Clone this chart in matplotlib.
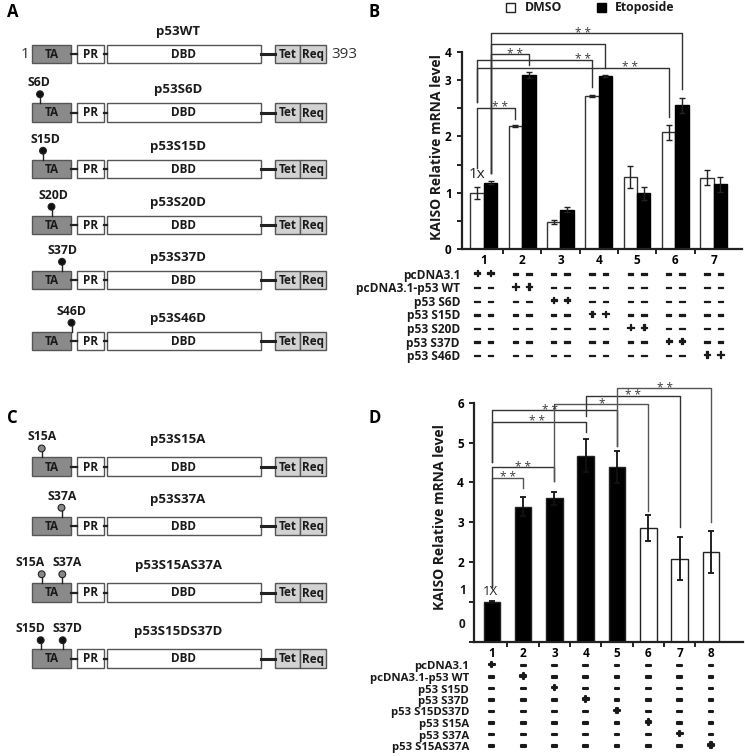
import matplotlib.pyplot as plt
import matplotlib.patheffects as pe
import numpy as np
from matplotlib.patches import Rectangle, Circle
from matplotlib.transforms import blended_transform_factory

plt.rcParams['font.family'] = ['Open Sans', 'DejaVu Sans']

# ---------------- data ----------------
# panel A / C constructs
a_names = ['p53WT', 'p53S6D', 'p53S15D', 'p53S20D', 'p53S37D', 'p53S46D']
a_sites = [[], ['S6D'], ['S15D'], ['S20D'], ['S37D'], ['S46D']]
c_names = ['p53S15A', 'p53S37A', 'p53S15AS37A', 'p53S15DS37D']
c_sites = [['S15A'], ['S37A'], ['S15A', 'S37A'], ['S15D', 'S37D']]

# panel B
b_groups = ['1', '2', '3', '4', '5', '6', '7']
b_dmso = [1.00, 2.18, 0.48, 2.72, 1.28, 2.07, 1.27]
b_dmso_err = [0.11, 0.02, 0.04, 0.02, 0.20, 0.13, 0.13]
b_etop = [1.18, 3.09, 0.70, 3.08, 0.99, 2.55, 1.15]
b_etop_err = [0.02, 0.06, 0.04, 0.02, 0.12, 0.13, 0.13]
b_rows = ['pcDNA3.1', 'pcDNA3.1-p53 WT', 'p53 S6D', 'p53 S15D',
          'p53 S20D', 'p53 S37D', 'p53 S46D']

# panel D
d_groups = ['1', '2', '3', '4', '5', '6', '7', '8']
d_vals = [1.00, 3.39, 3.60, 4.67, 4.38, 2.86, 2.08, 2.25]
d_err = [0.02, 0.24, 0.16, 0.41, 0.40, 0.33, 0.54, 0.52]
d_rows = ['pcDNA3.1', 'pcDNA3.1-p53 WT', 'p53 S15D', 'p53 S37D',
          'p53 S15DS37D', 'p53 S15A', 'p53 S37A', 'p53 S15AS37A']

# ---------------- figure ----------------
fig = plt.figure(figsize=(7.45, 7.56), dpi=100)
ov = fig.add_axes([0, 0, 1, 1])   # pixel overlay for diagrams / text
ov.set_xlim(0, 745)
ov.set_ylim(756, 0)
ov.axis('off')

BOLD = dict(fontweight='bold', color='#1a1a1a')

# x pixel position of each phospho site on the TA box, and of its label
site_x = {'S6D': (40, 38.5), 'S15D': (43, 45.5), 'S20D': (51.5, 53),
          'S37D': (62, 63), 'S46D': (71.5, 71.5),
          'S15A': (41.7, 41.7), 'S37A': (61.5, 62)}
pair_x = {'S15A': (41.7, 30.5), 'S37A': (62.3, 66.7),
          'S15D': (40.7, 30), 'S37D': (62.7, 67.3)}


def protein(y, title, sites, title_dy):
    h = 18.5
    ov.plot([71, 77], [y, y], color='#222', lw=1.6)
    ov.plot([104, 107], [y, y], color='#222', lw=1.6)
    ov.plot([261, 275], [y, y], color='#222', lw=2.2)
    boxes = [(32, 71, 'TA', '#8a8a8a'), (77, 104, 'PR', 'white'),
             (107, 261, 'DBD', 'white'), (275, 300, 'Tet', '#d2d2d2'),
             (300, 326, 'Req', '#d2d2d2')]
    for x0, x1, lab, fc in boxes:
        ov.add_patch(Rectangle((x0, y - h / 2), x1 - x0, h, fc=fc,
                               ec='#555555', lw=1))
        ov.text((x0 + x1) / 2, y + 0.5, lab, ha='center', va='center',
                fontsize=8.5, **BOLD)
    ov.text(178, y - title_dy, title, ha='center', va='center',
            fontsize=9.5, **BOLD)
    top = y - h / 2
    for s in sites:
        cx, lx = (pair_x[s] if len(sites) > 1 else site_x[s])
        fc = '#888888' if s.endswith('A') else '#111111'
        ov.plot([cx, cx], [top, top - 9], color='#222', lw=1)
        ov.add_patch(Circle((cx, top - 9), 3.4, fc=fc, ec='#222', lw=0.8,
                            zorder=3))
        ov.text(lx, top - 20.5, s, ha='center', va='center',
                fontsize=8.8, **BOLD)


a_y = [54, 112.5, 169, 225, 280, 341]
for y, name, s in zip(a_y, a_names, a_sites):
    protein(y, name, s, 22.5)
ov.text(25, 54, '1', ha='center', va='center', fontsize=11, color='#333')
ov.text(331, 54, '393', ha='left', va='center', fontsize=11, color='#333')

c_y = [466.7, 526, 592.5, 658.5]
for y, name, s in zip(c_y, c_names, c_sites):
    protein(y, name, s, 27)

for lab, x, y in [('A', 7, 12), ('B', 368, 12), ('C', 7, 418), ('D', 368, 418)]:
    ov.text(x, y, lab, ha='left', va='center', fontsize=12,
            fontweight='bold', color='black')


def style_axes(ax):
    for sp in ['top', 'right']:
        ax.spines[sp].set_visible(False)
    for sp in ['left', 'bottom']:
        ax.spines[sp].set_linewidth(1.6)
        ax.spines[sp].set_color('#222')
    ax.tick_params(axis='both', which='major', direction='out', length=3.5,
                   width=1.4, color='#222', labelsize=8.5, pad=4)
    for t in ax.get_yticklabels():
        t.set_fontweight('bold')


def bracket(ax, x1, x2, h, lb, rb, label, lx, color='#333'):
    ax.plot([x1, x1, x2, x2], [lb, h, h, rb], color=color, lw=1,
            clip_on=False)
    if label:
        ax.text(lx, h, label, ha='center', va='center', fontsize=8.5,
                color='#3a3a3a', clip_on=False)


def sign_table(ax, xs, owners, rows, y0, dy, xlab, fs, sfs, stroke):
    tr = blended_transform_factory(ax.transData, ov.transData)
    thick = [pe.withStroke(linewidth=stroke, foreground='#1a1a1a')]
    for r, row in enumerate(rows):
        y = y0 + r * dy
        ov.text(xlab, y + 1, row, ha='right', va='center', fontsize=fs, **BOLD)
        for x, g in zip(xs, owners):
            ov.text(x, y, '+' if g == r else '\u2013', transform=tr,
                    ha='center', va='center', fontsize=sfs,
                    path_effects=thick, **BOLD)


# ---------------- panel B ----------------
axB = fig.add_axes([462 / 745, 1 - 249 / 756, 280 / 745, 197 / 756])
xb = np.arange(len(b_groups))
w = 0.35
ekw = dict(elinewidth=1, ecolor='#222', capthick=1)
axB.bar(xb - w / 2, b_dmso, w, yerr=b_dmso_err, color='white',
        edgecolor='#333', lw=1, capsize=2.5, error_kw=ekw)
axB.bar(xb + w / 2, b_etop, w, yerr=b_etop_err, color='black',
        edgecolor='black', lw=1, capsize=2.5, error_kw=ekw)
axB.set_xlim(-0.57, 6.74)
axB.set_ylim(0, 3.5)
axB.set_yticks(np.arange(0, 3.6, 0.5))
axB.set_yticklabels(['0', '', '1', '', '2', '', '3', '4'])
axB.set_xticks(xb[:-1] + 0.5)
axB.set_xticklabels([])
axB.set_xticks(xb, minor=True)
axB.set_xticklabels(b_groups, minor=True, fontsize=8.5, fontweight='bold')
axB.tick_params(axis='x', which='minor', length=0, pad=3.5)
style_axes(axB)
axB.set_ylabel('KAISO Relative mRNA level', fontsize=10, fontweight='bold',
               color='#1a1a1a')
axB.yaxis.set_label_coords(-0.065, 0.52)
axB.text(-0.19, 1.33, '1x', ha='center', va='center', fontsize=11,
         color='#222')

d0, e0 = -w / 2, w / 2
bracket(axB, d0, 1 + d0, 2.51, 1.44, 2.31, '* *', 0.42)
bracket(axB, d0, 3 + d0, 3.36, 2.62, 2.88, '* *', 2.58)
bracket(axB, d0, 5 + d0, 3.22, 2.62, 2.34, '* *', 3.81)
bracket(axB, e0, 1 + e0, 3.46, 1.35, 3.27, '* *', 0.81)
bracket(axB, e0, 3 + e0, 3.65, 1.35, 3.21, None, 0)
bracket(axB, e0, 5 + e0, 3.83, 1.35, 2.84, '* *', 2.58)

# legend
ov.add_patch(Rectangle((506, 3), 9, 9, fc='white', ec='#222', lw=1))
ov.text(525, 7.5, 'DMSO', ha='left', va='center', fontsize=8.8, **BOLD)
ov.add_patch(Rectangle((597, 3), 9, 9, fc='black', ec='black', lw=1))
ov.text(615, 7.5, 'Etoposide', ha='left', va='center', fontsize=8.8, **BOLD)

xs_b = np.ravel(np.column_stack([xb - w / 2, xb + w / 2]))
own_b = np.repeat(xb, 2)
sign_table(axB, xs_b, own_b, b_rows, 274, 13.6, 460, 8.6, 9.3, 0.9)

# ---------------- panel D ----------------
axD = fig.add_axes([474.3 / 745, 1 - 641.7 / 756, 268.7 / 745, 239 / 756])
xd = np.arange(len(d_groups))
wd = 0.53
fills = ['black' if i < 5 else 'white' for i in xd]
axD.bar(xd, d_vals, wd, yerr=d_err, color=fills, edgecolor='#222', lw=1,
        capsize=2.5, error_kw=dict(elinewidth=1.3, ecolor='#111', capthick=1.3))
axD.set_xlim(-0.56, 8.02)
axD.set_ylim(0, 6)
axD.set_yticks(range(7))
axD.set_yticklabels(['', '', '2', '3', '4', '5', '6'])
axD.set_xticks(xd[:-1] + 0.5)
axD.set_xticklabels([])
axD.set_xticks(xd, minor=True)
axD.set_xticklabels(d_groups, minor=True, fontsize=8.5, fontweight='bold')
axD.tick_params(axis='x', which='minor', length=0, pad=3.5)
style_axes(axD)
ytr = blended_transform_factory(axD.transAxes, axD.transData)
for lab, yv in [('1', 1.29), ('0', 0.42)]:
    axD.text(-0.032, yv, lab, transform=ytr, ha='right', va='center',
             fontsize=8.5, **BOLD)
axD.set_ylabel('KAISO Relative mRNA level', fontsize=10, fontweight='bold',
               color='#1a1a1a')
axD.yaxis.set_label_coords(-0.1, 0.52)
axD.text(-0.05, 1.25, '1X', ha='center', va='center', fontsize=9.5,
         color='#222')

bracket(axD, 0, 1, 4.11, 1.375, 3.86, '* *', 0.53, '#555')
bracket(axD, 0, 2, 4.375, 1.375, 4.04, '* *', 1.01)
bracket(axD, 0, 3, 5.525, 4.5, 5.27, '* *', 1.44)
bracket(axD, 0, 4, 5.81, 4.5, 4.92, '* *', 1.86)
bracket(axD, 2, 5, 5.975, 4.04, 3.27, '*', 3.51, '#555')
bracket(axD, 3, 6, 6.17, 5.67, 2.875, '* *', 4.52)
bracket(axD, 4, 7, 6.36, 4.92, 3.0, '* *', 5.54, '#555')

sign_table(axD, xd, xd, d_rows, 666, 11.5, 469, 8.2, 8.2, 1.5)

fig.savefig('out.png', dpi=100, facecolor='white')
